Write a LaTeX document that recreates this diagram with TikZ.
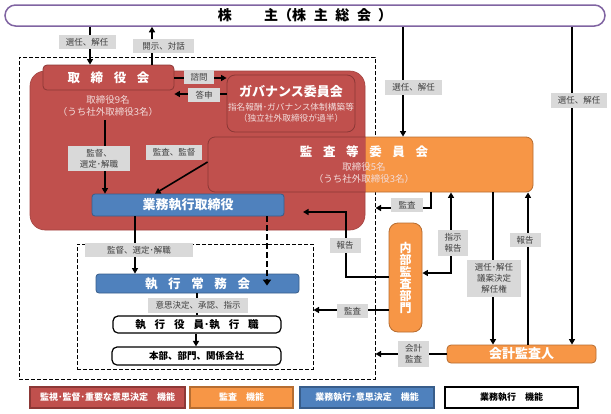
\documentclass[tikz,border=0pt]{standalone}
\usepackage{fontspec}
\setmainfont{Noto Sans CJK JP}
\usetikzlibrary{arrows.meta}
\usetikzlibrary{calc}

\definecolor{brdRed}{HTML}{C0504D}
\definecolor{brdRedDk}{HTML}{8C3836}
\definecolor{audOrg}{HTML}{F79646}
\definecolor{audOrgDk}{HTML}{B66D31}
\definecolor{exeBlue}{HTML}{4F81BD}
\definecolor{exeBlueDk}{HTML}{385D8A}
\definecolor{holdPurple}{HTML}{8064A2}
\definecolor{tagGray}{HTML}{D9D9D9}
\definecolor{tagText}{HTML}{3F3F3F}
\definecolor{paleText}{HTML}{F2DCDB}

\newcommand{\jsp}{\hspace{.85em}}

\tikzset{
	cell/.style={rectangle, inner sep=0pt, align=center},
	redbox/.style={cell, fill=brdRed, draw=brdRedDk, line width=.8pt, text=white},
	orgbox/.style={cell, fill=audOrg, draw=audOrgDk, line width=.8pt, text=white},
	bluebox/.style={cell, fill=exeBlue, draw=exeBlueDk, line width=.8pt, text=white, rounded corners=3pt},
	linebox/.style={cell, fill=white, draw=black, line width=1.2pt, rounded corners=5pt},
	frame/.style={cell, draw=black, line width=1pt, dash pattern=on 4pt off 2pt},
	tag/.style={cell, fill=tagGray, text=tagText, inner xsep=3pt, inner ysep=3.5pt, font=\fontsize{8.5}{11}\selectfont},
	arr/.style={line width=1.6pt, -{Triangle[length=5.5pt,width=6pt]}},
	bigfont/.style={font=\bfseries\fontsize{12.5}{14}\selectfont},
	keybox/.style={cell, minimum height=21, line width=1.6pt, font=\bfseries\fontsize{9}{10}\selectfont},
	redkey/.style={fill=brdRed, draw=brdRedDk, text=white},
	orgkey/.style={fill=audOrg, draw=audOrgDk, text=white},
	bluekey/.style={fill=exeBlue, draw=exeBlueDk, text=white},
	whitekey/.style={fill=white, draw=black, text=black}
}

\begin{document}
\begin{tikzpicture}[x=1pt,y=-1pt]
	\useasboundingbox (0,0) rectangle (611,413);

	% frames and shareholders
	\node[frame, minimum width=356, minimum height=322] (outer) at (197,218) {};
	\node[cell, fill=white, draw=holdPurple, line width=1.5pt, rounded corners=10.5pt, minimum width=600, minimum height=21, font=\bfseries\fontsize{14}{16}\selectfont] (holders) at (305,15.5) {株\hspace{2.3em}主（株\hspace{.55em}主\hspace{.55em}総\hspace{.55em}会\hspace{.5em}）};

	% board of directors
	\node[orgbox, rounded corners=7pt, minimum width=325, minimum height=55] (audit) at (370.5,164.5) {};
	\node[redbox, draw=brdRed!85!black, line width=.6pt, rounded corners=15pt, minimum width=335, minimum height=159] (body) at (197.5,150.5) {};
	\begin{scope}
		\clip[rounded corners=15pt] (body.north west) rectangle (body.south east);
		\node[redbox, rounded corners=7pt, minimum width=325, minimum height=55] (auditRed) at (audit) {};
	\end{scope}
	\node[cell, text=paleText, font=\fontsize{9.5}{12}\selectfont] (auditTxt) at (364,164.5) {{\color{white}\bfseries\fontsize{12.5}{15}\selectfont 監\jsp 査\jsp 等\jsp 委\jsp 員\jsp 会}\\[1.5pt]取締役5名\\（うち社外取締役3名）};
	\node[redbox, rounded corners=4pt, minimum width=131, minimum height=25, bigfont] (board) at (108.5,77.5) {取\jsp 締\jsp 役\jsp 会};
	\node[cell, text=paleText, font=\fontsize{9.5}{12}\selectfont] (boardTxt) at (108,106) {取締役9名\\（うち社外取締役3名）};
	\node[redbox, rounded corners=8pt, minimum width=128, minimum height=57, text=paleText, font=\fontsize{8.7}{10.5}\selectfont] (gov) at (291,103.5) {{\color{white}\bfseries\fontsize{13}{15}\selectfont ガバナンス委員会}\\[4pt]指名報酬･ガバナンス体制構築等\\（独立社外取締役が過半）};
	\node[bluebox, minimum width=192, minimum height=22, font=\bfseries\fontsize{13}{14}\selectfont] (exec) at (188,205) {業務執行取締役};

	% execution
	\node[frame, minimum width=236, minimum height=125] (inner) at (195,306.5) {};
	\node[bluebox, minimum width=203, minimum height=19, bigfont] (comm) at (197.5,283.5) {執\jsp 行\jsp 常\jsp 務\jsp 会};
	\node[linebox, minimum width=168, minimum height=17, font=\bfseries\fontsize{10.5}{12}\selectfont] (officers) at (197,324.5) {執\jsp 行\jsp 役\jsp 員･執\jsp 行\jsp 職};
	\node[linebox, minimum width=169, minimum height=18, font=\bfseries\fontsize{9.5}{11}\selectfont] (units) at (196.5,356) {本部、部門、関係会社};

	% audit side
	\node[orgbox, rounded corners=9pt, minimum width=33, minimum height=109, font=\bfseries\fontsize{12}{12}\selectfont] (internal) at (405.5,277.5) {内\\部\\監\\査\\部\\門};
	\node[orgbox, rounded corners=4pt, minimum width=149, minimum height=18, font=\bfseries\fontsize{13}{14}\selectfont] (auditor) at (521.5,354) {会計監査人};

	% connectors
	\coordinate (bodyOut) at (105,120);
	\coordinate (bodyIn) at (303,212);
	\draw[arr] (holders.south -| 90,0) -- (board.north -| 90,0);
	\draw[arr] (board.north -| 152,0) -- (holders.south -| 152,0);
	\draw[arr] (board.east |- 0,78) -- (gov.west |- 0,78);
	\draw[arr] (gov.west |- 0,94) -- (board.east |- 0,94);
	\draw[arr] (bodyOut) -- (exec.north -| bodyOut);
	\draw[arr] (audit.west |- 0,162) -- (exec.north -| 155,0);
	\draw[arr] (exec.south -| 135,0) -- (comm.north -| 135,0);
	\draw[line width=2.4pt, dash pattern=on 6pt off 3pt, -{Triangle[length=6pt,width=8pt]}] (exec.south -| 267,0) -- ($(comm.north -| 267,0)+(0,12)$);
	\draw[line width=1.6pt] (comm.south -| 197,0) -- (officers.north -| 197,0);
	\draw[arr] (officers.south -| 196,0) -- (units.north -| 196,0);
	\draw[arr] (holders.south -| 403,0) -- (audit.north -| 403,0);
	\draw[arr] (holders.south -| 572,0) -- (auditor.north -| 572,0);
	\draw[arr] (audit.south -| 431,0) |- (outer.east |- 0,208);
	\draw[arr] (internal.west |- 0,277) -| (bodyIn -| 346,0) -- (bodyIn);
	\draw[arr] (internal.west |- 0,310) -- (inner.east |- 0,310);
	\draw[arr, {Triangle[length=5.5pt,width=6pt]}-{Triangle[length=5.5pt,width=6pt]}] (audit.south -| 451,0) |- (internal.east |- 0,273);
	\draw[arr] (audit.south -| 493,0) -- (auditor.north -| 493,0);
	\draw[arr] (auditor.north -| 528,0) -- (audit.south -| 528,0);
	\draw[arr] (auditor.west) -- (outer.east |- auditor.west);

	% labels on connectors
	\foreach \nm/\x/\y/\w/\txt in {
		tagSelA/87/42/57/{選任、解任},
		tagDisc/163.5/46/61/{開示、対話},
		tagCons/199/77/30/{諮問},
		tagAns/204/95/32/{答申},
		tagSupA/99/158.5/62/{監督、\\選定･解職},
		tagAudA/174/152.5/56/{監査、監督},
		tagSupB/139/250/108/{監督、選定･解職},
		tagDec/198/305.5/100/{意思決定、承認、指示},
		tagSelB/413.5/87.5/57/{選任、解任},
		tagSelC/579/100.5/56/{選任、解任},
		tagAudB/407/205/32/{監査},
		tagRepA/345/245.5/31/{報告},
		tagAudC/352.5/311/31/{監査},
		tagInst/453/243/30/{指示\\報告},
		tagAcc/494/278.5/54/{選任･解任\\議案決定\\解任権},
		tagRepB/525/240/31/{報告},
		tagAccB/413.5/354/31/{会計\\監査}}
		\node[tag, minimum width=\w] (\nm) at (\x,\y) {\txt};

	% legend
	\foreach \nm/\x/\w/\sty/\txt in {
		keyRed/107.5/155/redkey/{監視･監督･重要な意思決定　機能},
		keyOrg/241.5/103/orgkey/{監査　機能},
		keyBlue/367/134/bluekey/{業務執行･意思決定　機能},
		keyWhite/511.5/133/whitekey/{業務執行　機能}}
		\node[keybox, \sty, minimum width=\w] (\nm) at (\x,397.5) {\txt};
\end{tikzpicture}
\end{document}
